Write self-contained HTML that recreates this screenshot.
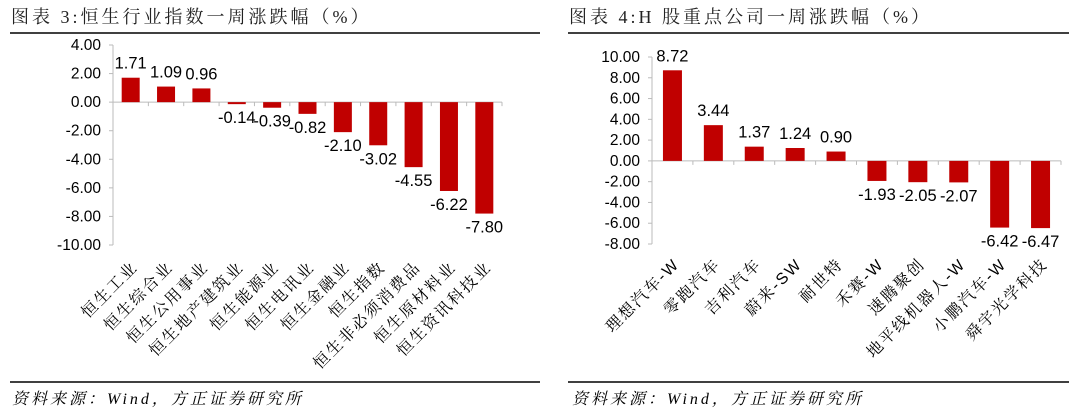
<!DOCTYPE html>
<html><head><meta charset="utf-8"><style>
body{margin:0;background:#fff;}
svg{display:block;}
.t{font-family:"Liberation Serif","Noto Serif CJK SC",serif;font-size:18px;letter-spacing:3px;fill:#222;}
.tick{font-family:"Liberation Sans",sans-serif;font-size:15.5px;fill:#000;}
.val{font-family:"Liberation Sans",sans-serif;font-size:16.5px;fill:#000;}
.cat{font-family:"Liberation Sans","Noto Serif CJK SC",serif;font-size:16px;letter-spacing:2px;fill:#000;}
.src{font-family:"Liberation Serif","Noto Serif CJK SC",serif;font-size:16px;letter-spacing:3px;font-style:italic;fill:#000;}
</style></head><body>
<svg id="s" width="1080" height="415" xmlns="http://www.w3.org/2000/svg">
<text class="t" x="11" y="23">图表 3:恒生行业指数一周涨跌幅（%）</text>
<line x1="10" y1="33" x2="540" y2="33" stroke="#000" stroke-width="1.5"/>
<text class="t" x="569" y="23">图表 4:H 股重点公司一周涨跌幅（%）</text>
<line x1="568" y1="33" x2="1069" y2="33" stroke="#000" stroke-width="1.5"/>
<line x1="10" y1="382" x2="540" y2="382" stroke="#000" stroke-width="1.5"/>
<line x1="568" y1="382" x2="1069" y2="382" stroke="#000" stroke-width="1.5"/>
<text class="src" x="12" y="404">资料来源：Wind，方正证券研究所</text>
<text class="src" x="572" y="404">资料来源：Wind，方正证券研究所</text>
</svg>
<script>
const leftCats=["恒生工业","恒生综合业","恒生公用事业","恒生地产建筑业","恒生能源业","恒生电讯业","恒生金融业","恒生指数","恒生非必须消费品","恒生原材料业","恒生资讯科技业"];
const leftVals=[1.71,1.09,0.96,-0.14,-0.39,-0.82,-2.10,-3.02,-4.55,-6.22,-7.80];
const leftTicks=[4,2,0,-2,-4,-6,-8,-10];
const rightCats=["理想汽车-W","零跑汽车","吉利汽车","蔚来-SW","耐世特","禾赛-W","速腾聚创","地平线机器人-W","小鹏汽车-W","舜宇光学科技"];
const rightVals=[8.72,3.44,1.37,1.24,0.90,-1.93,-2.05,-2.07,-6.42,-6.47];
const rightTicks=[10,8,6,4,2,0,-2,-4,-6,-8];
const NS="http://www.w3.org/2000/svg";
const svg=document.getElementById('s');
function el(tag,attrs,txt){const e=document.createElementNS(NS,tag);for(const k in attrs)e.setAttribute(k,attrs[k]);if(txt!==undefined)e.textContent=txt;svg.appendChild(e);return e;}
function chart(p,cats,vals,ticks){
  const y=v=>p.y0+(p.max-v)/(p.max-p.min)*(p.y1-p.y0);
  const bw=(p.x1-p.x0)/cats.length;
  const x=i=>p.x0+(i+0.5)*bw;
  let a=el('line',{x1:p.x0,y1:p.y0,x2:p.x0,y2:p.y1,stroke:'#bbb'});
  
  
  ticks.forEach(t=>{
    let l=el('line',{x1:p.x0-4,y1:y(t),x2:p.x0,y2:y(t),stroke:'#bbb'});
    
    
    let tx=el('text',{class:'tick',x:p.x0-12,y:y(t)+5,'text-anchor':'end'},t.toFixed(2));
    
    
  });
  let z=el('line',{x1:p.x0,y1:y(0),x2:p.x1,y2:y(0),stroke:'#bbb'});
  
  
  cats.forEach((c,i)=>{
    let tk=el('line',{x1:p.x0+(i+1)*bw,y1:y(0),x2:p.x0+(i+1)*bw,y2:y(0)+4,stroke:'#bbb'});
    
    
    const v=vals[i];
    const top=Math.min(y(v),y(0)),h=Math.abs(y(v)-y(0));
    let r=el('rect',{x:x(i)-p.barW/2,y:top,width:p.barW,height:Math.max(h,1),fill:'#c00000'});
    
    
    let lv=el('text',{class:'val',x:x(i),y:v>=0?y(v)-9:y(v)+19,'text-anchor':'middle'},v.toFixed(2));
    
    
    let cl=el('text',{class:'cat','text-anchor':'end',transform:`translate(${x(i)+8},${p.labY}) rotate(-45)`},c);
    
    
  });
}
chart({pre:'left',x0:113,x1:502,y0:45,y1:245,max:4,min:-10,barW:18,labY:268},leftCats,leftVals,leftTicks);
chart({pre:'right',x0:652,x1:1061,y0:57,y1:244,max:10,min:-8,barW:19,labY:265},rightCats,rightVals,rightTicks);
</script>
</body></html>
